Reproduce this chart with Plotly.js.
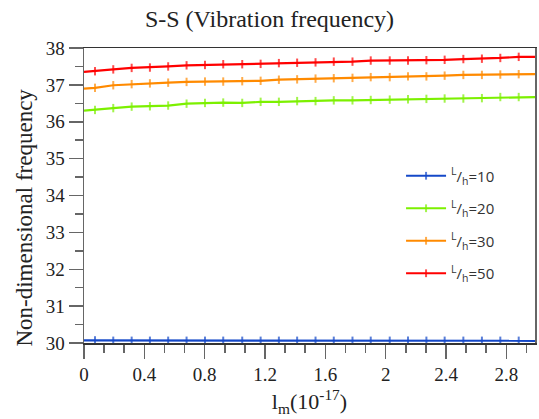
<!DOCTYPE html>
<html>
<head>
<meta charset="utf-8">
<script src="https://cdn.plot.ly/plotly-3.0.1.min.js"></script>
<style>html,body{margin:0;padding:0;background:#fff;}#chart{width:539px;height:419px;}</style>
</head>
<body>
<div id="chart"></div>
<script>
// x positions (l_m, units of 1e-17); first and last points carry no marker
const xVals = [0, 0.073, 0.194, 0.316, 0.437, 0.558, 0.680, 0.802, 0.923, 1.049, 1.171, 1.292, 1.413,
  1.535, 1.656, 1.780, 1.901, 2.027, 2.148, 2.270, 2.391, 2.515, 2.638, 2.760, 2.882, 2.99];
const seriesNames = ["<sup>L</sup>/<sub>h</sub>=10", "<sup>L</sup>/<sub>h</sub>=20", "<sup>L</sup>/<sub>h</sub>=30", "<sup>L</sup>/<sub>h</sub>=50"];
const lh10 = [30.07, 30.07, 30.06, 30.06, 30.06, 30.06, 30.06, 30.06, 30.06, 30.06, 30.06, 30.06, 30.06,
  30.06, 30.06, 30.06, 30.06, 30.06, 30.06, 30.06, 30.06, 30.06, 30.06, 30.06, 30.06, 30.06];
const lh20 = [36.30, 36.32, 36.37, 36.41, 36.42, 36.44, 36.49, 36.51, 36.52, 36.51, 36.54, 36.54, 36.56,
  36.56, 36.58, 36.58, 36.59, 36.60, 36.61, 36.62, 36.63, 36.63, 36.64, 36.67, 36.67, 36.67];
const lh30 = [36.90, 36.92, 36.99, 37.02, 37.04, 37.06, 37.08, 37.09, 37.09, 37.10, 37.11, 37.14, 37.15,
  37.17, 37.18, 37.19, 37.21, 37.21, 37.23, 37.23, 37.25, 37.27, 37.27, 37.28, 37.29, 37.29];
const lh50 = [37.35, 37.37, 37.42, 37.46, 37.47, 37.50, 37.53, 37.54, 37.56, 37.56, 37.57, 37.59, 37.60,
  37.61, 37.63, 37.63, 37.66, 37.66, 37.66, 37.67, 37.68, 37.70, 37.71, 37.73, 37.76, 37.76];
const xTickVals = [0, 0.4, 0.8, 1.2, 1.6, 2, 2.4, 2.8];
const xTickText = ["0", "0.4", "0.8", "1.2", "1.6", "2", "2.4", "2.8"];
const colors = ["#1448c8", "#7cf000", "#ff8a00", "#ff0000"];

const allY = [lh10, lh20, lh30, lh50];
const sizes = xVals.map((x, i) => (i === 0 || i === xVals.length - 1) ? 0 : 6);
const traces = allY.map((y, k) => ({
  x: xVals, y: y, type: "scatter", mode: "lines+markers", name: seriesNames[k],
  legendgroup: "g" + k,
  line: {color: colors[k], width: 2.2},
  marker: {symbol: "line-ns", size: sizes, color: colors[k], line: {color: colors[k], width: 2}}
}));

const serif = "Liberation Serif, Times New Roman, serif";
const axisFont = {family: serif, size: 19, color: "#222"};
const layout = {
  width: 539, height: 419,
  margin: {l: 84, r: 4, t: 48, b: 76},
  paper_bgcolor: "#fff", plot_bgcolor: "#fff",
  title: {text: "S-S (Vibration frequency)", x: 0.5, xref: "container", xanchor: "center", y: 0.955, yanchor: "middle",
    font: {family: serif, size: 24, color: "#222"}},
  xaxis: {range: [0, 2.99], tickvals: xTickVals, ticktext: xTickText,
    ticks: "outside", ticklen: 14, tickwidth: 1.5, tickcolor: "#666",
    minor: {dtick: 0.1333333333, tick0: 0, ticks: "outside", ticklen: 8, tickwidth: 1.5, tickcolor: "#666", showgrid: false},
    showline: true, linecolor: "#333", linewidth: 1.5, mirror: true, showgrid: false, zeroline: false,
    tickfont: axisFont,
    title: {text: "l<sub>m</sub>(10<sup>-17</sup>)", standoff: 9, font: {family: serif, size: 22, color: "#222"}}},
  yaxis: {range: [30, 38], dtick: 1, ticks: "outside", ticklen: 14, tickwidth: 1.5, tickcolor: "#666",
    minor: {dtick: 0.5, ticks: "outside", ticklen: 8, tickwidth: 1.5, tickcolor: "#666", showgrid: false},
    showline: true, linecolor: "#666", linewidth: 1.5, mirror: true, showgrid: false, zeroline: false,
    tickfont: axisFont},
  annotations: [{text: "Non-dimensional frequency", textangle: -90, xref: "paper", yref: "paper",
    x: -0.131, y: 0.425, xanchor: "center", yanchor: "middle", showarrow: false,
    font: {family: serif, size: 23, color: "#222"}}],
  showlegend: true,
  legend: {x: 0.703, xanchor: "left", y: 0.622, yanchor: "top", bgcolor: "rgba(0,0,0,0)",
    traceorder: "grouped", tracegroupgap: 10, itemwidth: 40,
    font: {family: "Open Sans, Liberation Sans, sans-serif", size: 15, color: "#333"}}
};
Plotly.newPlot("chart", traces, layout, {displayModeBar: false, staticPlot: true});
</script>
</body>
</html>
